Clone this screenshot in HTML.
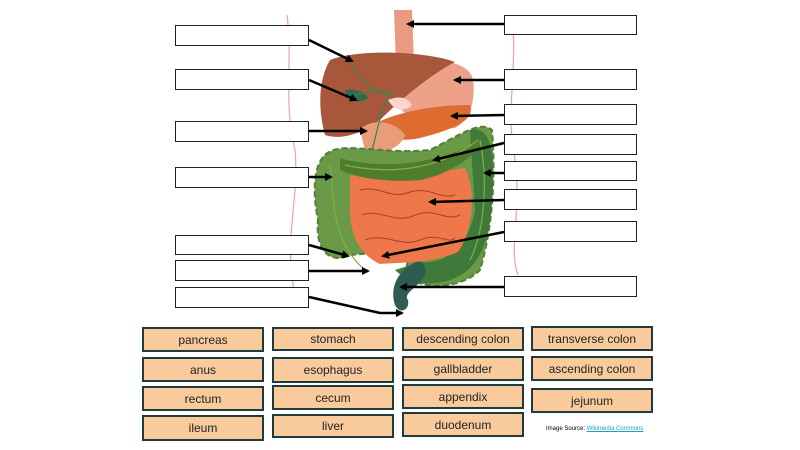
<!DOCTYPE html>
<html><head><meta charset="utf-8"><style>
body{margin:0;width:800px;height:450px;background:#fff;position:relative;overflow:hidden;font-family:"Liberation Sans",sans-serif}
.e{position:absolute;border:1px solid #222;background:#fff;box-sizing:border-box}
.t{position:absolute;background:#f9cb9c;border:2px solid #1f3b3b;box-sizing:border-box;font-size:12px;color:#222;display:flex;align-items:center;justify-content:center}
.src{position:absolute;left:546px;top:426px;font-size:6px;color:#000}
.src span{color:#1aa3c4;text-decoration:underline}
</style></head><body>
<svg width="800" height="450" style="position:absolute;left:0;top:0">
<defs><marker id="a" markerWidth="8" markerHeight="8" refX="6" refY="4" orient="auto" markerUnits="userSpaceOnUse"><path d="M0,0 L8,4 L0,8 z" fill="#000"/></marker></defs>
<path d="M287,15 C293,60 283,100 295,150 C300,200 282,240 296,300" stroke="#f4a0a0" fill="none" stroke-width="1.2"/>
<path d="M512,15 C518,70 505,110 515,160 C522,210 508,250 518,275" stroke="#f4a0a0" fill="none" stroke-width="1.2"/>
<path d="M394,10 L412,10 L414,65 L396,65 Z" fill="#e99a80"/>
<path d="M410,62 C440,58 470,62 473,80 C476,100 470,120 455,128 C430,130 410,120 400,108 C398,90 402,72 410,62Z" fill="#eca188"/>
<path d="M330,60 C360,48 430,52 455,62 C430,75 400,100 380,120 C360,135 340,140 325,135 C318,110 318,80 330,60Z" fill="#a9573b"/>
<path d="M388,100 C400,95 408,98 412,105 C405,112 395,112 388,100Z" fill="#fbd6cc"/>
<path d="M345,90 C355,88 365,92 368,98 C360,104 348,103 345,90Z" fill="#2e6b4f"/>
<path d="M372,125 C400,110 440,105 470,105 C475,118 460,128 420,138 C400,142 385,140 372,125Z" fill="#de6b30"/>
<path d="M360,130 C370,118 395,120 405,135 C400,150 380,155 365,150Z" fill="#e89c77"/>
<path d="M325,155 C340,140 380,155 430,150 C460,135 480,120 492,130 C496,180 492,230 480,270 C460,290 420,290 405,275 L410,250 L350,255 C330,265 315,250 318,220 C312,190 314,165 325,155Z" fill="#6a9a48" stroke="#557f38" stroke-width="2" stroke-dasharray="6 3"/>
<path d="M470,130 C490,125 496,150 492,200 C490,240 480,270 450,280 C420,290 400,275 395,270 L420,262 C450,265 470,240 475,210Z" fill="#3f7a3a"/>
<path d="M420,260 C440,280 400,290 408,300 C410,310 400,315 395,305 C390,290 395,270 420,260Z" fill="#2d5c52"/>
<path d="M350,175 C380,172 430,174 465,168 C476,190 474,230 458,252 C430,264 405,262 380,264 C360,255 350,235 350,210Z" fill="#ee7849"/>
<g stroke="#a8412a" stroke-width="1" fill="none"><path d="M360,190 C380,185 390,200 410,192 C430,186 440,200 455,195"/><path d="M362,215 C380,208 395,225 415,215 C435,207 445,222 460,215"/><path d="M365,240 C385,232 400,248 420,240 C440,232 448,245 455,238"/></g>
<path d="M340,158 C380,170 440,165 480,140 C485,150 450,175 420,180 C390,183 355,178 340,170Z" fill="#4f7d2e"/>
<g stroke="#7fb040" stroke-width="1.2" fill="none"><path d="M330,165 C335,200 330,240 365,270"/><path d="M480,140 C488,180 485,230 470,260"/><path d="M345,165 C390,175 440,170 478,140"/></g>
<g stroke="#2c8a52" stroke-width="1.2" fill="none"><path d="M350,62 C360,80 370,90 390,95 C380,110 378,130 372,150"/><path d="M355,95 C370,92 380,90 392,93"/></g>
</svg>
<svg width="800" height="450" style="position:absolute;left:0;top:0">
<g stroke="#000" stroke-width="2.5" fill="none" marker-end="url(#a)">
<line x1="504" y1="24" x2="408" y2="24"/>
<line x1="309" y1="40" x2="352" y2="61"/>
<line x1="309" y1="80" x2="356" y2="100"/>
<line x1="309" y1="131" x2="366" y2="131"/>
<line x1="309" y1="177" x2="331" y2="177"/>
<line x1="309" y1="245" x2="348" y2="256"/>
<line x1="309" y1="271" x2="368" y2="271"/>
<polyline points="309,297 380,313 402,313"/>
<line x1="504" y1="80" x2="455" y2="80"/>
<line x1="504" y1="115" x2="452" y2="116"/>
<line x1="504" y1="143" x2="434" y2="160"/>
<line x1="504" y1="173" x2="485" y2="173"/>
<line x1="504" y1="200" x2="430" y2="202"/>
<line x1="504" y1="232" x2="383" y2="256"/>
<line x1="504" y1="287" x2="401" y2="287"/>
</g></svg>
<div class="e" style="left:175px;top:25px;width:134px;height:21px"></div>
<div class="e" style="left:175px;top:69px;width:134px;height:21px"></div>
<div class="e" style="left:175px;top:121px;width:134px;height:21px"></div>
<div class="e" style="left:175px;top:167px;width:134px;height:21px"></div>
<div class="e" style="left:175px;top:235px;width:134px;height:20px"></div>
<div class="e" style="left:175px;top:260px;width:134px;height:21px"></div>
<div class="e" style="left:175px;top:287px;width:134px;height:21px"></div>
<div class="e" style="left:504px;top:15px;width:133px;height:20px"></div>
<div class="e" style="left:504px;top:69px;width:133px;height:21px"></div>
<div class="e" style="left:504px;top:104px;width:133px;height:21px"></div>
<div class="e" style="left:504px;top:134px;width:133px;height:21px"></div>
<div class="e" style="left:504px;top:161px;width:133px;height:20px"></div>
<div class="e" style="left:504px;top:189px;width:133px;height:21px"></div>
<div class="e" style="left:504px;top:221px;width:133px;height:21px"></div>
<div class="e" style="left:504px;top:276px;width:133px;height:21px"></div>
<div class="t" style="left:142px;top:327px;width:122px;height:25px">pancreas</div>
<div class="t" style="left:142px;top:357px;width:122px;height:25px">anus</div>
<div class="t" style="left:142px;top:386px;width:122px;height:25px">rectum</div>
<div class="t" style="left:142px;top:415px;width:122px;height:26px">ileum</div>
<div class="t" style="left:272px;top:327px;width:122px;height:24px">stomach</div>
<div class="t" style="left:272px;top:357px;width:122px;height:26px">esophagus</div>
<div class="t" style="left:272px;top:385px;width:122px;height:25px">cecum</div>
<div class="t" style="left:272px;top:414px;width:122px;height:24px">liver</div>
<div class="t" style="left:402px;top:327px;width:122px;height:24px">descending colon</div>
<div class="t" style="left:402px;top:356px;width:122px;height:25px">gallbladder</div>
<div class="t" style="left:402px;top:384px;width:122px;height:25px">appendix</div>
<div class="t" style="left:402px;top:412px;width:122px;height:25px">duodenum</div>
<div class="t" style="left:531px;top:326px;width:122px;height:25px">transverse colon</div>
<div class="t" style="left:531px;top:356px;width:122px;height:25px">ascending colon</div>
<div class="t" style="left:531px;top:388px;width:122px;height:25px">jejunum</div>
<div class="src">Image Source: <span>Wikimedia Commons</span></div>
</body></html>
